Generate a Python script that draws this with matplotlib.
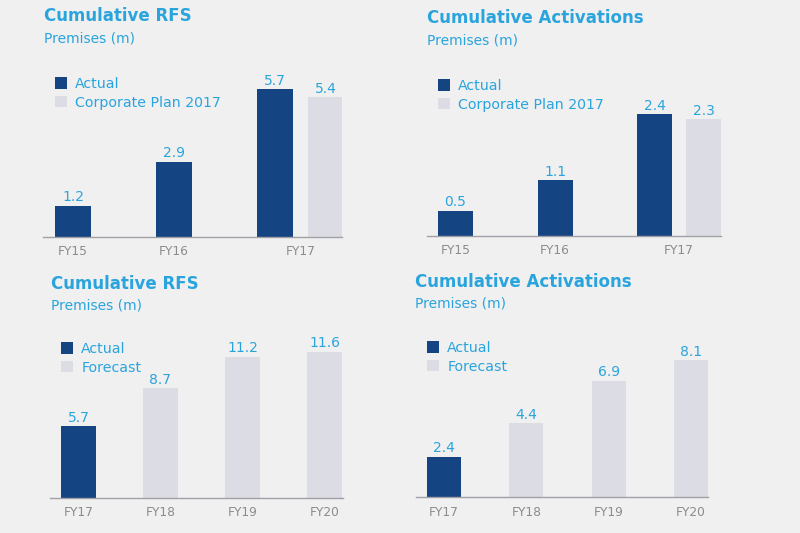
import numpy as np
import matplotlib.pyplot as plt
from matplotlib.patches import Patch

# colores
BG = '#f0f0f1'
NAVY = '#154483'
LIGHT = '#dcdce4'
CYAN = '#2aa4dd'
GREY = '#8c8c8c'

# datos - arriba (historico vs plan corporativo)
years_hist = ['FY15', 'FY16', 'FY17']
rfs_actual = [1.2, 2.9, 5.7]
act_actual = [0.5, 1.1, 2.4]
plan_years = ['FY17']
rfs_plan = [5.4]
act_plan = [2.3]

# datos - abajo (real vs pronostico)
years_fc = ['FY17', 'FY18', 'FY19', 'FY20']
rfs_fc = [5.7, 8.7, 11.2, 11.6]
act_fc = [2.4, 4.4, 6.9, 8.1]
is_actual = [True, False, False, False]

W, H = 800, 533
fig = plt.figure(figsize=(W / 100, H / 100), dpi=100, facecolor=BG)


def px_axes(x0, x1, base, top, ymax):
    # ejes colocados en pixeles de la figura
    ax = fig.add_axes([x0 / W, (H - base) / H, (x1 - x0) / W, (base - top) / H])
    ax.set_xlim(x0, x1)
    ax.set_ylim(0, ymax)
    ax.set_facecolor('none')
    for s in ['top', 'right', 'left']:
        ax.spines[s].set_visible(False)
    ax.spines['bottom'].set_color('#a0a0a6')
    ax.spines['bottom'].set_linewidth(1.0)
    ax.set_yticks([])
    ax.tick_params(axis='x', length=0, pad=6, labelsize=8.8, labelcolor=GREY)
    return ax


def value_labels(ax, xs, vals):
    for x, v in zip(xs, vals):
        ax.annotate(f'{v}', (x, v), xytext=(0, 1), textcoords='offset points',
                    ha='center', va='bottom', fontsize=10, color=CYAN)


def titles(x, y_title, y_sub, title):
    fig.text(x / W, 1 - y_title / H, title, fontsize=12, fontweight='bold',
             color=CYAN, va='baseline', ha='left')
    fig.text(x / W, 1 - y_sub / H, 'Premises (m)', fontsize=10,
             color=CYAN, va='baseline', ha='left')


def legend(ax, x, y, labels):
    handles = [Patch(facecolor=NAVY, label=labels[0]),
               Patch(facecolor=LIGHT, label=labels[1])]
    ax.legend(handles=handles, loc='upper left', bbox_to_anchor=(x / W, 1 - y / H),
              bbox_transform=fig.transFigure, frameon=False, borderpad=0,
              borderaxespad=0, fontsize=10.2, labelcolor=CYAN,
              handlelength=0.88, handleheight=0.88, handletextpad=0.55,
              labelspacing=0.32)


def hist_panel(x0, x1, base, ymax, c0, step, width, offset, actual, plan, title, tx, ty, ts, lx, ly):
    ax = px_axes(x0, x1, base, 60, ymax)
    xs = c0 + step * np.arange(len(years_hist))
    ax.bar(xs, actual, width=width, color=NAVY)
    px = np.array([xs[years_hist.index(y)] for y in plan_years]) + offset
    ax.bar(px, plan, width=width, color=LIGHT)
    value_labels(ax, xs, actual)
    value_labels(ax, px, plan)
    ticks = [x + (offset / 2 if y in plan_years else 0) for x, y in zip(xs, years_hist)]
    ax.set_xticks(ticks)
    ax.set_xticklabels(years_hist)
    titles(tx, ty, ts, title)
    legend(ax, lx, ly, ['Actual', 'Corporate Plan 2017'])


def fc_panel(x0, x1, base, ymax, c0, step, width, vals, title, tx, ty, ts, lx, ly):
    ax = px_axes(x0, x1, base, 320, ymax)
    xs = c0 + step * np.arange(len(years_fc))
    cols = [NAVY if a else LIGHT for a in is_actual]
    ax.bar(xs, vals, width=width, color=cols)
    value_labels(ax, xs, vals)
    ax.set_xticks(xs)
    ax.set_xticklabels(years_fc)
    titles(tx, ty, ts, title)
    legend(ax, lx, ly, ['Actual', 'Forecast'])


hist_panel(43, 342, 236.7, 6.83, 73, 101, 36, 50.5, rfs_actual, rfs_plan,
           'Cumulative RFS', 44, 20.7, 42.7, 55, 77)
hist_panel(427, 721, 236, 3.46, 455.5, 99.5, 35, 49, act_actual, act_plan,
           'Cumulative Activations', 427, 22.7, 45, 438, 79)
fc_panel(50, 343, 498, 14.1, 78.5, 82, 35, rfs_fc,
         'Cumulative RFS', 51, 289, 309.3, 61, 342)
fc_panel(416, 708, 497.3, 10.49, 444, 82.3, 34, act_fc,
         'Cumulative Activations', 415, 287, 307.7, 427, 341)

plt.savefig('out.png', dpi=100, facecolor=BG)
